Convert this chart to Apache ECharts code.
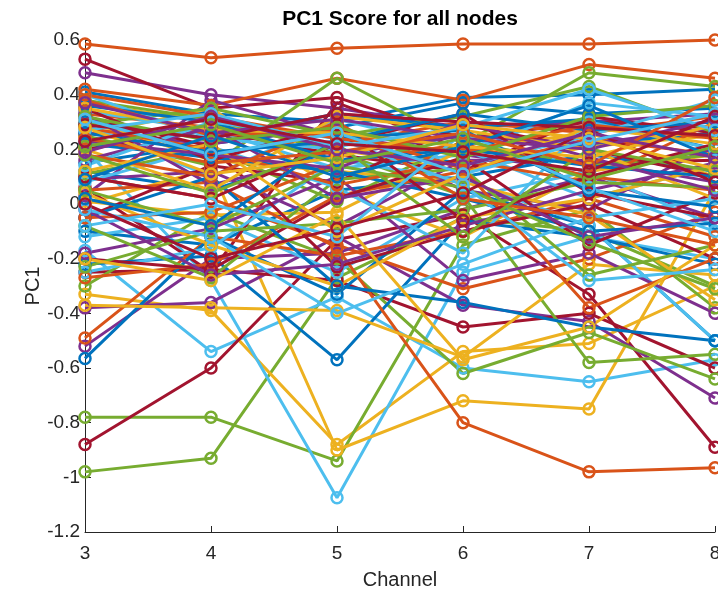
<!DOCTYPE html>
<html>
<head>
<meta charset="utf-8">
<script src="https://cdn.jsdelivr.net/npm/echarts@6/dist/echarts.min.js"></script>
<style>
  html, body { margin: 0; padding: 0; background: #fff; overflow: hidden; }
  #chart { width: 718px; height: 591px; }
</style>
</head>
<body>
<div id="chart"></div>
<script>
// Channels on the x axis
const channels = [3, 4, 5, 6, 7, 8];
const yTicks = [-1.2, -1, -0.8, -0.6, -0.4, -0.2, 0, 0.2, 0.4, 0.6];

// PC1 scores per node, grouped by the colour each node is drawn in
const blueNodes = [
  [0.41, 0.33, 0.30, 0.39, 0.40, 0.42],
  [0.15, 0.22, 0.28, 0.37, 0.33, 0.35],
  [0.12, 0.05, 0.20, 0.15, 0.22, 0.26],
  [-0.10, -0.15, 0.05, 0.10, 0.18, 0.12],
  [-0.22, -0.19, -0.57, -0.06, -0.12, -0.22],
  [-0.565, -0.12, -0.33, 0.05, -0.08, -0.50],
  [0.30, 0.24, 0.33, 0.28, 0.31, 0.20],
  [0.22, 0.17, 0.12, 0.02, -0.10, -0.07],
  [-0.05, 0.10, -0.30, -0.36, -0.45, -0.50],
  [0.36, 0.30, 0.16, 0.20, 0.14, 0.10],
  [0.02, -0.08, 0.24, 0.27, 0.05, -0.01],
  [0.26, 0.19, 0.23, 0.33, 0.27, 0.30],
  [0.09, 0.25, 0.10, 0.21, 0.36, 0.17]
];
const orangeNodes = [
  [0.585, 0.535, 0.57, 0.585, 0.585, 0.60],
  [0.42, 0.36, 0.46, 0.38, 0.51, 0.46],
  [0.33, 0.28, 0.22, 0.30, 0.26, 0.32],
  [0.10, 0.02, -0.15, -0.31, -0.20, -0.03],
  [-0.49, -0.12, -0.19, -0.10, 0.02, -0.12],
  [0.05, 0.08, -0.16, -0.80, -0.98, -0.965],
  [-0.27, -0.22, 0.03, 0.12, 0.24, 0.18],
  [0.28, 0.20, 0.07, 0.16, 0.08, 0.30],
  [-0.05, -0.03, 0.15, 0.22, 0.10, 0.05],
  [0.38, 0.25, 0.27, 0.13, -0.38, -0.20],
  [0.18, 0.10, 0.30, 0.02, -0.05, -0.15],
  [0.40, 0.32, 0.24, 0.19, 0.29, 0.24],
  [0.24, 0.15, 0.19, 0.26, 0.14, 0.39]
];
const yellowNodes = [
  [0.37, 0.30, 0.20, 0.12, 0.21, 0.25],
  [-0.33, -0.39, -0.88, -0.54, -0.51, -0.30],
  [0.00, 0.13, -0.90, -0.72, -0.75, 0.05],
  [0.25, 0.35, 0.05, -0.12, 0.12, 0.18],
  [0.01, -0.04, -0.03, 0.20, 0.26, 0.10],
  [-0.37, -0.38, -0.39, -0.56, -0.22, -0.26],
  [0.31, 0.16, 0.12, 0.08, -0.04, -0.35],
  [0.04, -0.15, -0.30, -0.05, 0.02, 0.14],
  [0.20, 0.05, 0.32, 0.27, 0.20, 0.02],
  [-0.20, -0.28, -0.04, -0.57, -0.45, -0.15],
  [0.12, 0.22, -0.10, 0.11, 0.28, 0.22],
  [0.35, 0.27, 0.26, 0.21, 0.17, 0.29],
  [0.28, 0.11, 0.17, 0.29, 0.24, 0.13]
];
const purpleNodes = [
  [0.48, 0.40, 0.35, 0.28, 0.30, 0.33],
  [0.03, 0.38, 0.25, 0.18, 0.12, 0.20],
  [-0.38, -0.36, -0.12, -0.37, -0.43, -0.71],
  [-0.52, -0.20, -0.18, -0.02, 0.10, -0.05],
  [0.26, 0.22, 0.28, 0.05, -0.02, 0.22],
  [0.09, 0.12, -0.08, 0.16, 0.16, 0.08],
  [-0.18, -0.09, 0.10, -0.28, -0.18, -0.40],
  [0.33, 0.07, 0.18, 0.25, 0.22, 0.28],
  [-0.02, -0.26, -0.22, -0.08, 0.05, 0.15],
  [0.16, 0.28, 0.02, 0.10, -0.12, -0.05],
  [0.23, 0.18, 0.13, 0.30, 0.17, 0.05],
  [0.37, 0.26, 0.31, 0.24, 0.20, 0.31],
  [0.19, 0.32, 0.20, 0.14, 0.26, 0.17]
];
const greenNodes = [
  [-0.98, -0.93, -0.27, -0.05, -0.10, -0.30],
  [-0.78, -0.78, -0.94, -0.15, -0.02, -0.38],
  [0.25, 0.14, 0.46, 0.22, 0.48, 0.43],
  [-0.30, -0.03, -0.20, -0.62, -0.47, -0.64],
  [0.38, 0.31, 0.19, 0.03, -0.58, -0.55],
  [0.11, 0.20, 0.01, 0.23, 0.14, 0.18],
  [-0.08, -0.27, 0.09, 0.13, -0.26, -0.15],
  [0.29, 0.35, 0.25, 0.32, 0.43, 0.26],
  [-0.23, -0.10, -0.07, -0.02, 0.08, 0.06],
  [0.05, -0.08, 0.14, 0.06, -0.14, -0.31],
  [0.18, 0.04, 0.22, -0.12, 0.20, 0.12],
  [0.32, 0.23, 0.28, 0.17, 0.32, 0.36],
  [0.21, 0.29, 0.15, 0.24, 0.09, 0.21]
];
const cyanNodes = [
  [-0.17, -0.54, -0.34, -0.60, -0.65, -0.57],
  [0.20, -0.28, -1.075, -0.25, -0.12, -0.20],
  [0.34, 0.27, 0.13, 0.18, 0.37, 0.32],
  [-0.12, -0.05, -0.25, 0.02, 0.12, -0.08],
  [0.29, 0.10, 0.31, 0.20, 0.02, 0.14],
  [-0.25, -0.16, 0.16, 0.09, -0.08, -0.50],
  [0.08, 0.21, 0.06, -0.18, 0.30, 0.20],
  [0.40, 0.24, 0.20, 0.14, 0.25, 0.38],
  [-0.02, -0.12, -0.40, -0.22, -0.05, 0.02],
  [0.14, 0.30, 0.24, 0.07, -0.28, -0.24],
  [-0.08, 0.00, -0.12, 0.26, 0.06, -0.10],
  [0.27, 0.33, 0.21, 0.28, 0.42, 0.27],
  [0.31, 0.18, 0.26, 0.11, 0.23, 0.33]
];
const crimsonNodes = [
  [0.53, 0.35, 0.39, 0.24, 0.30, 0.28],
  [-0.88, -0.60, -0.13, -0.04, -0.33, -0.89],
  [-0.25, -0.24, -0.28, -0.45, -0.40, -0.60],
  [0.06, -0.25, 0.37, 0.20, 0.15, 0.16],
  [0.20, 0.27, 0.18, 0.12, 0.32, 0.26],
  [-0.05, 0.14, 0.08, 0.29, 0.20, 0.10],
  [0.32, 0.21, -0.23, -0.10, 0.00, -0.20],
  [-0.20, -0.24, 0.02, 0.17, -0.15, 0.04],
  [0.10, 0.02, 0.22, 0.33, 0.04, -0.05],
  [0.35, 0.16, 0.29, -0.06, 0.10, 0.22],
  [0.00, -0.20, -0.09, 0.04, 0.27, 0.08],
  [0.29, 0.24, 0.33, 0.30, 0.28, 0.25],
  [0.23, 0.31, 0.22, 0.19, 0.12, 0.32]
];

// Default MATLAB-style colour order
const colorGroups = [
  { color: '#0072BD', nodes: blueNodes },
  { color: '#D95319', nodes: orangeNodes },
  { color: '#EDB120', nodes: yellowNodes },
  { color: '#7E2F8E', nodes: purpleNodes },
  { color: '#77AC30', nodes: greenNodes },
  { color: '#4DBEEE', nodes: cyanNodes },
  { color: '#A2142F', nodes: crimsonNodes }
];

// Interleave groups so colours cycle node by node
const series = [];
const maxLen = Math.max(...colorGroups.map(g => g.nodes.length));
for (let i = 0; i < maxLen; i++) {
  colorGroups.forEach(g => {
    const row = g.nodes[i];
    if (!row) return;
    series.push({
      type: 'line',
      data: channels.map((c, k) => [c, row[k]]),
      symbol: 'circle',
      symbolSize: 11,
      clip: false,
      silent: true,
      animation: false,
      lineStyle: { color: g.color, width: 3 },
      itemStyle: { color: 'rgba(255,255,255,0)', borderColor: g.color, borderWidth: 2.5 }
    });
  });
}

const axisColor = '#262626';
const font = 'Liberation Sans, Arial, Helvetica, sans-serif';

const chart = echarts.init(document.getElementById('chart'), null, { renderer: 'canvas', width: 718, height: 591 });
chart.setOption({
  backgroundColor: '#ffffff',
  animation: false,
  graphic: [{
    type: 'text',
    x: 400,
    y: 19,
    style: {
      text: 'PC1 Score for all nodes',
      font: 'bold 21px ' + font,
      fill: '#000',
      align: 'center',
      verticalAlign: 'middle'
    }
  }],
  // Fixed plot box; labels may run to the page edge (the "8" is cut off there)
  grid: { left: 85, width: 630, top: 40, bottom: 59, containLabel: false, outerBoundsMode: 'none' },
  xAxis: {
    type: 'value',
    min: channels[0],
    max: channels[channels.length - 1],
    interval: 1,
    name: 'Channel',
    nameLocation: 'middle',
    nameGap: 38,
    nameMoveOverlap: false,
    nameTextStyle: { fontFamily: font, fontSize: 20, color: axisColor },
    axisLine: { onZero: false, lineStyle: { color: axisColor, width: 1 } },
    axisTick: { inside: true, length: 6, lineStyle: { color: axisColor } },
    axisLabel: { fontFamily: font, fontSize: 19, color: axisColor, margin: 12 },
    splitLine: { show: false }
  },
  yAxis: {
    type: 'value',
    min: yTicks[0],
    max: yTicks[yTicks.length - 1],
    interval: 0.2,
    name: 'PC1',
    nameLocation: 'middle',
    nameGap: 42,
    nameRotate: 90,
    nameMoveOverlap: false,
    nameTextStyle: { fontFamily: font, fontSize: 20, color: axisColor },
    axisLine: { show: true, lineStyle: { color: axisColor, width: 1 } },
    axisTick: { show: true, inside: true, length: 6, lineStyle: { color: axisColor } },
    axisLabel: {
      fontFamily: font, fontSize: 19, color: axisColor, margin: 5,
      formatter: v => String(Math.round(v * 10) / 10)
    },
    splitLine: { show: false }
  },
  series: series
});
</script>
</body>
</html>
